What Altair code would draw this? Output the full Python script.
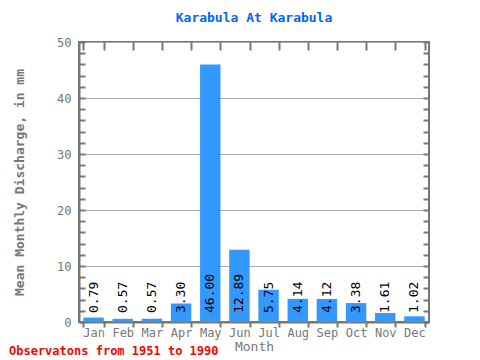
import altair as alt
import pandas as pd

months = ["Jan", "Feb", "Mar", "Apr", "May", "Jun", "Jul", "Aug", "Sep", "Oct", "Nov", "Dec"]
values = [0.79, 0.57, 0.57, 3.30, 46.00, 12.89, 5.75, 4.14, 4.12, 3.38, 1.61, 1.02]
labels = ["0.79", "0.57", "0.57", "3.30", "46.00", "12.89", "5.75", "4.14", "4.12", "3.38", "1.61", "1.02"]
major_ticks = [0, 10, 20, 30, 40, 50]
minor_ticks = list(range(0, 51, 2))

df = pd.DataFrame({"Month": months, "Value": values, "Label": labels})
font = "DejaVu Sans Mono"
gray = "#777777"

xscale = alt.Scale(domain=months, paddingInner=0.3, paddingOuter=0.15)
yscale = alt.Scale(domain=[0, 50], nice=False)

base = alt.Chart(df)

bars = base.mark_bar(color="#3399ff").encode(
    x=alt.X("Month:N", sort=months, scale=xscale,
            axis=alt.Axis(title="Month", orient="bottom", labelAngle=0, tickBand="extent",
                          tickSize=5, tickWidth=2, tickColor=gray, domainColor=gray, domainWidth=2,
                          labelFont=font, labelFontSize=12, labelColor=gray, labelPadding=0,
                          titleFont=font, titleFontSize=13, titleColor=gray, titleFontWeight="normal",
                          titlePadding=2)),
    y=alt.Y("Value:Q", scale=yscale,
            axis=alt.Axis(title="Mean Monthly Discharge, in mm", values=major_ticks, ticks=False,
                          grid=True, gridColor="#aaaaaa", gridWidth=1, domainColor=gray, domainWidth=2,
                          labelFont=font, labelFontSize=12, labelColor=gray, labelPadding=8,
                          titleFont=font, titleFontSize=13, titleColor=gray, titleFontWeight="bold",
                          titlePadding=30)),
)

text = base.mark_text(angle=270, align="left", baseline="middle", dx=9, font=font,
                      fontSize=13, color="black").encode(
    x=alt.X("Month:N", sort=months, scale=xscale, axis=None),
    y=alt.Y("zero:Q", scale=yscale, axis=None),
    text="Label:N",
).transform_calculate(zero="0")

top_ticks = base.mark_point(opacity=0).encode(
    x=alt.X("Month:N", sort=months, scale=xscale,
            axis=alt.Axis(title=None, orient="top", labels=False, domain=False, tickBand="extent",
                          tickSize=8, tickWidth=2, tickColor=gray, offset=-8)),
)

tdf = pd.DataFrame({"t": minor_ticks})
left_ticks = alt.Chart(tdf).mark_point(opacity=0).encode(
    y=alt.Y("t:Q", scale=yscale,
            axis=alt.Axis(title=None, orient="left", labels=False, domain=False, values=minor_ticks,
                          tickSize=6, tickWidth=2, tickColor=gray, offset=-6, grid=False)),
)
right_ticks = alt.Chart(tdf).mark_point(opacity=0).encode(
    y=alt.Y("t:Q", scale=yscale,
            axis=alt.Axis(title=None, orient="right", labels=False, domain=False, values=minor_ticks,
                          tickSize=6, tickWidth=2, tickColor=gray, offset=-6, grid=False)),
)

note = alt.Chart(pd.DataFrame({"n": ["Observatons from 1951 to 1990"]})).mark_text(
    align="left", baseline="middle", font=font, fontSize=12, fontWeight="bold", color="#ff0000"
).encode(x=alt.value(-70), y=alt.value(309), text="n:N")

chart = alt.layer(bars, text, top_ticks, left_ticks, right_ticks, note).resolve_axis(
    x="independent", y="independent"
).properties(
    width=350, height=280,
    autosize=alt.AutoSizeParams(type="none"),
    padding={"left": 71, "top": 34, "right": 35, "bottom": 38},
    title=alt.TitleParams("Karabula At Karabula", font=font, fontSize=13, fontWeight="bold",
                          color="#0066ff", offset=11),
).configure_view(stroke=gray, strokeWidth=2)

chart.save("out.html", embed_options={"renderer": "svg", "actions": False})
